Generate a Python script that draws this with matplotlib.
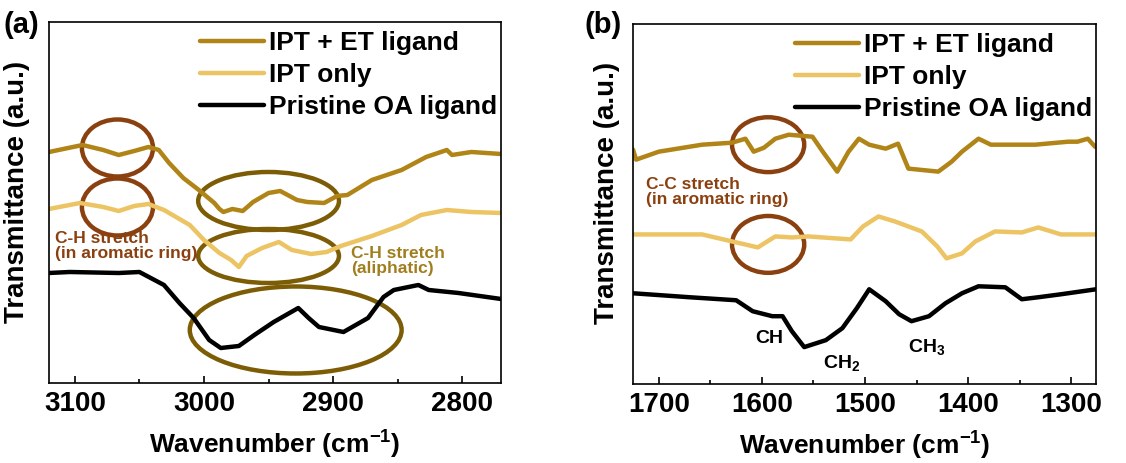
import matplotlib
matplotlib.use("Agg")
import matplotlib.pyplot as plt
from matplotlib.patches import Ellipse
from matplotlib.ticker import MultipleLocator

plt.rcParams['font.family'] = ['Liberation Sans', 'DejaVu Sans']
plt.rcParams['font.weight'] = 'bold'
plt.rcParams['mathtext.default'] = 'bf'
plt.rcParams['mathtext.fontset'] = 'custom'
plt.rcParams['mathtext.bf'] = 'Liberation Sans:bold'
plt.rcParams['mathtext.rm'] = 'Liberation Sans:bold'

# ---- data (wavenumber in cm-1, transmittance in arbitrary units) ----
# panel (a): 3120 - 2770 cm-1
a_et_wn = [3120, 3094, 3078, 3066, 3054, 3043, 3035, 3027, 3016, 3004, 2992, 2988,
           2985, 2978, 2970, 2962, 2950, 2941, 2928, 2920, 2907, 2897, 2889, 2870,
           2847, 2828, 2812, 2808, 2793, 2770]
a_et_y = [231, 238, 233, 228, 232, 236, 233, 220, 205, 193, 180, 174, 171, 174, 172,
          181, 190, 192, 183, 181, 180, 187, 188, 203, 213, 226, 233, 228, 231, 229]

a_ipt_wn = [3120, 3096, 3078, 3066, 3054, 3043, 3031, 3011, 3000, 2988, 2979, 2973,
            2967, 2955, 2942, 2932, 2917, 2905, 2894, 2870, 2847, 2832, 2812, 2793,
            2770]
a_ipt_y = [174, 180, 176, 172, 177, 179, 173, 158, 143, 130, 123, 116, 127, 135, 141,
           133, 129, 131, 137, 147, 158, 168, 173, 171, 170]

a_oa_wn = [3120, 3104, 3066, 3050, 3031, 3019, 3008, 2996, 2987, 2973, 2961, 2946,
           2927, 2919, 2911, 2892, 2873, 2861, 2853, 2834, 2826, 2803, 2770]
a_oa_y = [110, 111, 110, 111, 98, 80, 65, 43, 35, 37, 48, 61, 75, 65, 56, 51, 65,
          86, 93, 98, 93, 90, 84]

# panel (b): 1725 - 1276 cm-1
b_et_wn = [1725, 1722, 1700, 1658, 1629, 1616, 1608, 1598, 1587, 1574, 1551, 1541,
           1527, 1516, 1506, 1496, 1480, 1468, 1458, 1429, 1416, 1406, 1390, 1378,
           1357, 1335, 1303, 1294, 1284, 1277, 1276]
b_et_y = [235, 225, 233, 240, 242, 246, 233, 237, 246, 250, 248, 233, 213, 233, 246,
          240, 236, 241, 216, 213, 223, 233, 246, 240, 240, 240, 243, 243, 246, 238, 238]

b_ipt_wn = [1725, 1658, 1629, 1604, 1587, 1571, 1555, 1514, 1502, 1487, 1471, 1458,
            1445, 1430, 1421, 1406, 1393, 1374, 1348, 1332, 1310, 1276]
b_ipt_y = [150, 150, 143, 137, 148, 147, 148, 145, 158, 168, 163, 158, 153, 138, 126,
           131, 143, 153, 152, 157, 150, 150]

b_oa_wn = [1725, 1670, 1625, 1609, 1590, 1580, 1571, 1559, 1538, 1522, 1508, 1496,
           1480, 1467, 1455, 1438, 1422, 1406, 1390, 1364, 1348, 1332, 1310, 1276]
b_oa_y = [91, 87, 84, 73, 68, 68, 53, 37, 44, 56, 76, 95, 83, 70, 63, 68, 81, 91, 98,
          97, 85, 87, 90, 95]

labels = ['IPT + ET ligand', 'IPT only', 'Pristine OA ligand']
colors = ['#B08416', '#ECC463', '#000000']
brown = '#8B4010'
olive = '#7C5D05'
olive_text = '#A07E1E'

fig = plt.figure(figsize=(11.26, 4.63), dpi=100)
ax1 = fig.add_axes([0.0435, 0.1728, 0.4015, 0.7797])
ax2 = fig.add_axes([0.5622, 0.1706, 0.4112, 0.7775])

series_a = [(a_et_wn, a_et_y), (a_ipt_wn, a_ipt_y), (a_oa_wn, a_oa_y)]
series_b = [(b_et_wn, b_et_y), (b_ipt_wn, b_ipt_y), (b_oa_wn, b_oa_y)]

for ax, series in [(ax1, series_a), (ax2, series_b)]:
    for (wn, y), lab, c in zip(series, labels, colors):
        ax.plot(wn, y, color=c, lw=3.2, label=lab, solid_capstyle='round')
    ax.set_ylim(0, 361)
    ax.set_yticks([])
    ax.tick_params(axis='x', direction='in', length=5, width=1.2, labelsize=20, pad=6)
    ax.tick_params(axis='x', which='minor', direction='in', length=3, width=1.2)
    ax.xaxis.set_major_locator(MultipleLocator(100))
    ax.xaxis.set_minor_locator(MultipleLocator(50))
    for s in ax.spines.values():
        s.set_linewidth(1.2)
    ax.set_xlabel('Wavenumber (cm$^{-1}$)', fontsize=19, fontweight='bold', labelpad=8)
    ax.set_ylabel('Transmittance (a.u.)', fontsize=20, fontweight='bold')
    leg = ax.legend(loc='upper right', bbox_to_anchor=(1.0, 0.985), frameon=False,
                    fontsize=19, handlelength=2.4, handletextpad=0.2, labelspacing=0.3,
                    borderaxespad=0.0, borderpad=0.15)
    for t in leg.get_texts():
        t.set_fontweight('bold')

ax1.yaxis.set_label_coords(-0.042, 0.53)
ax2.yaxis.set_label_coords(-0.028, 0.53)

ax1.set_xlim(3120, 2770)
ax2.set_xlim(1725, 1276)

# ellipses panel (a)
ell_kw = dict(fill=False, lw=3.2)
ax1.add_patch(Ellipse((3067, 235), 55, 57, ec=brown, **ell_kw))
ax1.add_patch(Ellipse((3067, 176), 55, 57, ec=brown, **ell_kw))
ax1.add_patch(Ellipse((2950, 182), 109, 58, ec=olive, **ell_kw))
ax1.add_patch(Ellipse((2950, 127), 109, 54, ec=olive, **ell_kw))
ax1.add_patch(Ellipse((2929, 53), 164, 87, ec=olive, **ell_kw))

ax1.text(3115, 152, 'C-H stretch\n(in aromatic ring)', color=brown, fontsize=12.5,
         fontweight='bold', va='top', ha='left', linespacing=1.0)
ax1.text(2886, 137, 'C-H stretch\n(aliphatic)', color=olive_text, fontsize=12.5,
         fontweight='bold', va='top', ha='left', linespacing=1.0)

# ellipses panel (b)
ax2.add_patch(Ellipse((1594, 240), 70, 55, ec=brown, **ell_kw))
ax2.add_patch(Ellipse((1594, 140), 70, 57, ec=brown, **ell_kw))

ax2.text(1712, 208, 'C-C stretch\n(in aromatic ring)', color=brown, fontsize=12.5,
         fontweight='bold', va='top', ha='left', linespacing=1.0)
ax2.text(1593, 46, 'CH', fontsize=14, fontweight='bold', ha='center', va='center')
ax2.text(1523, 21, 'CH$_2$', fontsize=14, fontweight='bold', ha='center', va='center')
ax2.text(1440, 37, 'CH$_3$', fontsize=14, fontweight='bold', ha='center', va='center')

fig.text(0.003, 0.945, '(a)', fontsize=21, fontweight='bold', va='center')
fig.text(0.519, 0.945, '(b)', fontsize=21, fontweight='bold', va='center')

fig.savefig('out.png', dpi=100)
